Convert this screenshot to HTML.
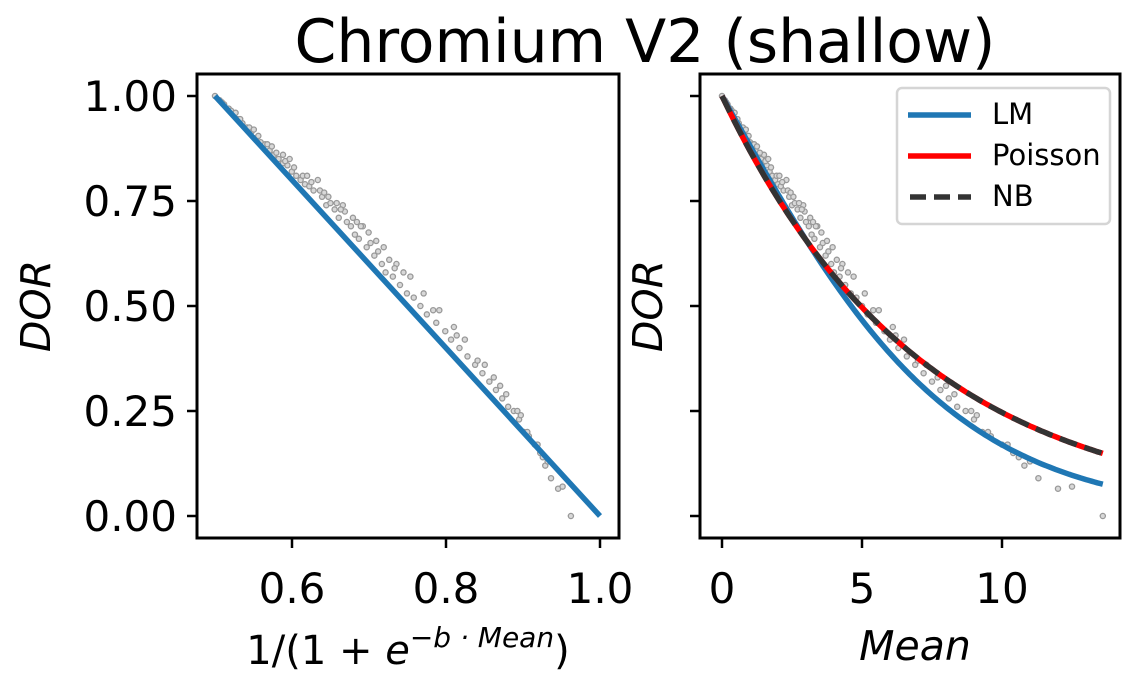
<!DOCTYPE html>
<html><head><meta charset="utf-8"><style>
body{margin:0;background:#fff;}
svg text{font-family:"DejaVu Sans","Liberation Sans",sans-serif;fill:#000;}
</style></head><body>
<svg id="c" width="1140" height="688" viewBox="0 0 1140 688">
<text x="645" y="62" font-size="60" text-anchor="middle">Chromium V2 (shallow)</text>
</svg>
<script>
const means=[0,0.1,0.2,0.3,0.4,0.5,0.6,0.7,0.8,0.9,1.0,1.1,1.2,1.3,1.4,1.5,1.6,1.7,1.8,1.9,2.0,2.1,2.2,2.4,2.5,2.6,2.7,2.8,3.0,3.1,3.2,3.3,3.5,3.6,3.7,3.9,4.0,4.2,4.4,4.6,4.8,5.0,5.2,5.5,5.8,6.0,6.3,6.6,6.9,7.2,7.5,7.8,8.1,8.4,8.7,9.0,9.3,9.6,10.0,10.4,10.8,11.3,12.0,13.6,1.5,2.3,2.9,3.4,4.1,4.5,5.4,6.2,7.0,8.0,9.1,
0.15,0.35,0.55,0.75,0.95,1.15,1.35,1.55,1.75,1.95,2.15,2.35,2.55,2.75,2.95,3.15,3.35,3.55,3.75,3.95,4.3,4.7,5.1,5.6,6.1,6.5,7.3,7.7,8.3,8.9,9.5,10.2,10.6,11.0,12.5,0.45,0.85,1.25,1.65,2.05,2.45,2.85,3.25,3.8,4.25];
const dors=[1,0.99,0.98,0.97,0.955,0.945,0.935,0.925,0.915,0.9,0.89,0.885,0.87,0.86,0.85,0.84,0.835,0.82,0.81,0.8,0.79,0.785,0.775,0.76,0.74,0.745,0.73,0.71,0.7,0.69,0.67,0.66,0.64,0.65,0.62,0.6,0.58,0.57,0.55,0.53,0.52,0.5,0.48,0.46,0.44,0.42,0.4,0.38,0.36,0.34,0.32,0.3,0.28,0.26,0.25,0.23,0.2,0.19,0.17,0.15,0.12,0.09,0.065,0.0,0.86,0.8,0.74,0.69,0.61,0.58,0.49,0.43,0.37,0.31,0.24,
0.985,0.965,0.945,0.925,0.905,0.885,0.865,0.845,0.83,0.81,0.795,0.775,0.76,0.745,0.725,0.71,0.69,0.675,0.655,0.64,0.6,0.57,0.53,0.49,0.45,0.42,0.36,0.33,0.29,0.25,0.2,0.17,0.14,0.13,0.07,0.96,0.92,0.88,0.85,0.81,0.77,0.73,0.7,0.63,0.59];
const bLM=0.238, lamP=0.14;
const yTicks=[0,0.25,0.5,0.75,1.0];
const yTickLabels=["0.00","0.25","0.50","0.75","1.00"];
const lxTicks=[0.6,0.8,1.0], lxTickLabels=["0.6","0.8","1.0"];
const rxTicks=[0,5,10], rxTickLabels=["0","5","10"];

const svg=document.getElementById('c');const NS='http://www.w3.org/2000/svg';
function mk(t,a,p){const e=document.createElementNS(NS,t);for(const k in a)e.setAttribute(k,a[k]);(p||svg).appendChild(e);return e;}
const Y=v=>516-420*v;
const LX=v=>215+770*(v-0.5);
const RX=v=>722+28*v;
const sig=m=>1/(1+Math.exp(-bLM*m));

function panel(name){
  const g=mk('g',{});return g;}
const gl=panel('left-panel'), gr=panel('right-panel');

means.forEach((m,i)=>{
  let c=mk('circle',{cx:LX(sig(m)),cy:Y(dors[i]),r:2.6,fill:'#d8d8d8',stroke:'#999','stroke-width':1.3},gl);
  
  c=mk('circle',{cx:RX(m),cy:Y(dors[i]),r:2.6,fill:'#d8d8d8',stroke:'#999','stroke-width':1.3},gr);
  
});
let l=mk('line',{x1:LX(0.5),y1:Y(1),x2:LX(1),y2:Y(0),stroke:'#1f77b4','stroke-width':5.5},gl);

function curve(f,attrs,name){let d='';for(let m=0;m<=13.6;m+=0.1){d+=(d?'L':'M')+RX(m).toFixed(1)+','+Y(f(m)).toFixed(1);}
  const p=mk('path',Object.assign({d:d,fill:'none'},attrs),gr);}
curve(m=>2-2*sig(m),{stroke:'#1f77b4','stroke-width':5.5},'lm-curve');
curve(m=>Math.exp(-lamP*m),{stroke:'#ff0000','stroke-width':5.5},'poisson-curve');
curve(m=>Math.exp(-lamP*m),{stroke:'#333','stroke-width':5.5,'stroke-dasharray':'18 8'},'nb-curve');

function frame(g,x0,x1,X,ticks,labels,showY){
  mk('rect',{x:x0,y:74,width:x1-x0,height:464,fill:'none',stroke:'#000','stroke-width':3},g);
  yTicks.forEach((v,i)=>{mk('line',{x1:x0-10,x2:x0,y1:Y(v),y2:Y(v),stroke:'#000','stroke-width':2.5},g);
    if(showY){const t=mk('text',{x:x0-20,y:Y(v)+15,'font-size':42,'text-anchor':'end'},g);t.textContent=yTickLabels[i];
      }});
  ticks.forEach((v,i)=>{mk('line',{x1:X(v),x2:X(v),y1:538,y2:548,stroke:'#000','stroke-width':2.5},g);
    const t=mk('text',{x:X(v),y:603,'font-size':42,'text-anchor':'middle'},g);t.textContent=labels[i];
    });
}
frame(gl,197,619,LX,lxTicks,lxTickLabels,true);
frame(gr,700,1120,RX,rxTicks,rxTickLabels,false);
</script>
<svg style="position:absolute;left:0;top:0" width="1140" height="688">
<text x="50" y="306" font-size="41" font-style="italic" text-anchor="middle" transform="rotate(-90 50 306)">DOR</text>
<text x="662" y="306" font-size="41" font-style="italic" text-anchor="middle" transform="rotate(-90 662 306)">DOR</text>
<text x="408" y="664" font-size="40" text-anchor="middle">1/(1 + <tspan font-style="italic">e</tspan><tspan dy="-17" font-size="28" font-style="italic">−b · Mean</tspan><tspan dy="17">)</tspan></text>
<text x="915" y="660" font-size="41" font-style="italic" text-anchor="middle">Mean</text>
<g>
<rect x="897" y="88" width="213" height="136" rx="5" fill="#fff" fill-opacity="0.8" stroke="#d5d5d5" stroke-width="2.5"/>
<line x1="908" y1="115" x2="971" y2="115" stroke="#1f77b4" stroke-width="5.5"/>
<text x="992" y="124" font-size="29">LM</text>
<line x1="908" y1="156" x2="971" y2="156" stroke="#ff0000" stroke-width="5.5"/>
<text x="992" y="165" font-size="29">Poisson</text>
<line x1="910" y1="197" x2="971" y2="197" stroke="#333" stroke-width="5.5" stroke-dasharray="16 8"/>
<text x="992" y="206" font-size="29">NB</text>
</g>
</svg>
</body></html>
